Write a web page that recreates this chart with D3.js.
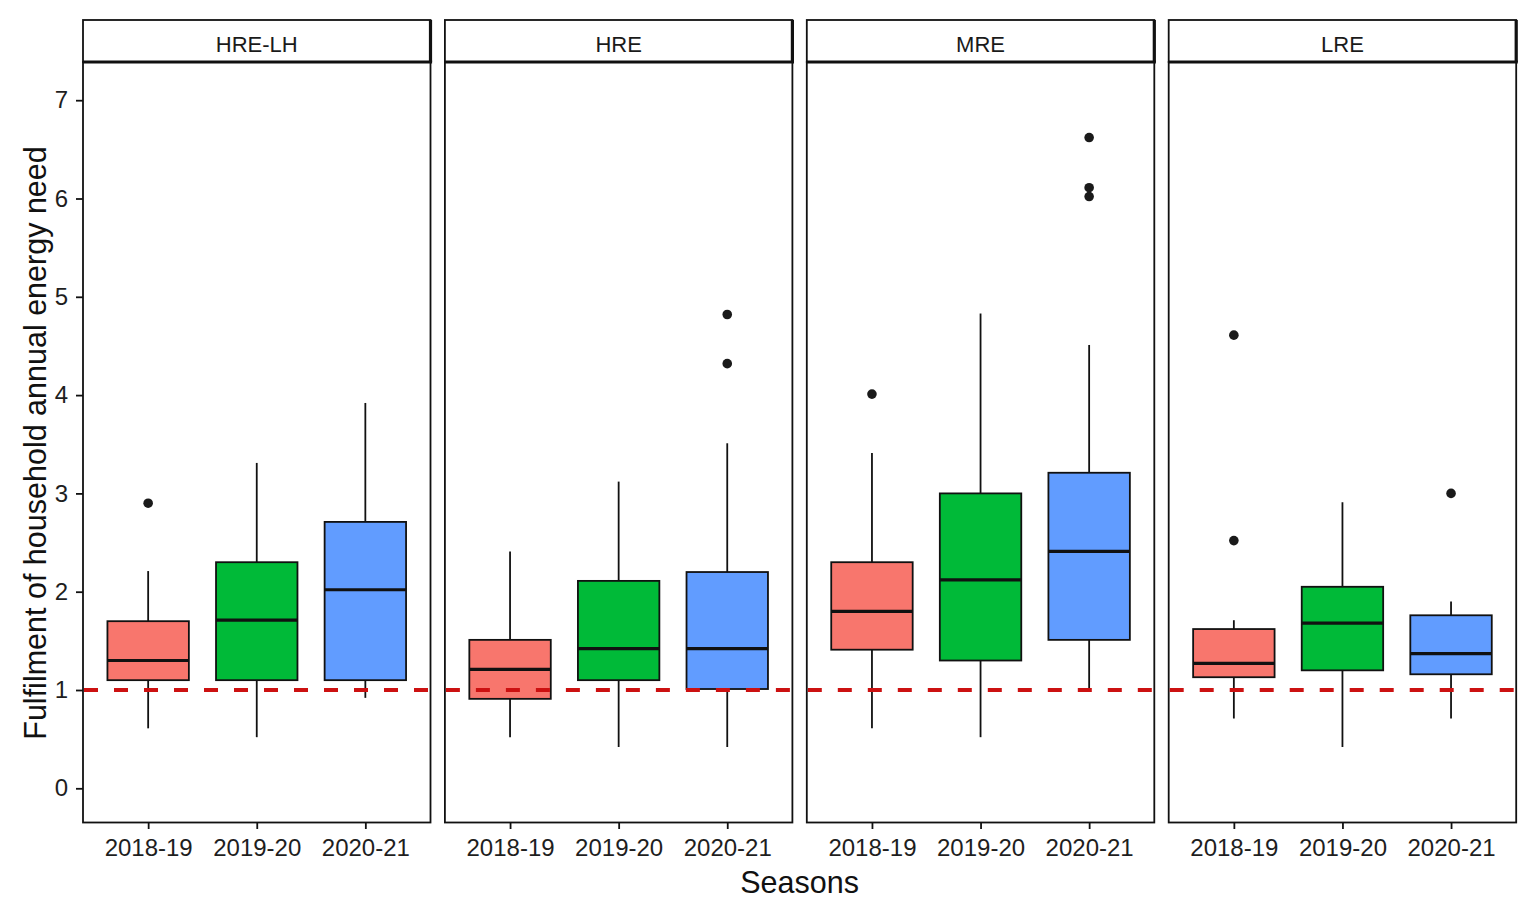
<!DOCTYPE html>
<html lang="en">
<head>
    <meta charset="UTF-8">
    <title>Fulfilment of household annual energy need</title>
    <script src="https://cdn.jsdelivr.net/npm/d3@7/dist/d3.min.js"></script>
</head>
<style>
    body { margin: 0; background: #fff; }
    svg { display: block; font-family: "Liberation Sans", Arial, sans-serif; }
    .tick-label { font-size: 24px; fill: #1e1e1e; }
    .axis-title { font-size: 30.5px; fill: #111; }
    .strip-label { font-size: 22px; fill: #1a1a1a; }
</style>
<body>
    <svg width="1536" height="914"></svg>
</body>
<script>
// facets and seasons
var facets = ["HRE-LH", "HRE", "MRE", "LRE"];
var seasons = ["2018-19", "2019-20", "2020-21"];
var colors = ["#F8766D", "#00BA38", "#619CFF"];

// box statistics, one row per facet, one value per season
var whiskerLow  = [[0.61, 0.52, 0.92], [0.52, 0.42, 0.42], [0.61, 0.52, 1.02], [0.71, 0.42, 0.71]];
var q1          = [[1.10, 1.10, 1.10], [0.91, 1.10, 1.01], [1.41, 1.30, 1.51], [1.13, 1.20, 1.16]];
var median      = [[1.30, 1.71, 2.02], [1.21, 1.42, 1.42], [1.80, 2.12, 2.41], [1.27, 1.68, 1.37]];
var q3          = [[1.70, 2.30, 2.71], [1.51, 2.11, 2.20], [2.30, 3.00, 3.21], [1.62, 2.05, 1.76]];
var whiskerHigh = [[2.21, 3.31, 3.92], [2.41, 3.12, 3.51], [3.41, 4.83, 4.51], [1.71, 2.91, 1.90]];
var outliers = [
    [[2.90], [], []],
    [[], [], [4.32, 4.82]],
    [[4.01], [], [6.02, 6.11, 6.62]],
    [[2.52, 4.61], [], [3.00]]
];

var yTicks = [0, 1, 2, 3, 4, 5, 6, 7];
var threshold = 1;

// layout
var panelLeft = 83, panelW = 347.5, panelGap = 14.4;
var stripTop = 20, plotTop = 62, plotBottom = 822.5;
var lw = 1.8;

var svg = d3.select("svg");

var y = d3.scaleLinear().domain([0, 7]).range([788.3, 100.2]);

var facetX = d3.scaleBand()
    .domain(facets)
    .range([panelLeft, panelLeft + 4 * panelW + 3 * panelGap])
    .paddingInner(panelGap / (panelW + panelGap))
    .paddingOuter(0);

facets.forEach(function(f, fi) {
    var x0 = facetX(f);
    var g = svg.append("g").attr("transform", "translate(" + x0 + ",0)");

    var x = d3.scalePoint().domain(seasons).range([0, panelW]).padding(0.6);
    var boxW = x.step() * 0.75;

    // strip
    g.append("rect")
        .attr("x", 0).attr("y", stripTop)
        .attr("width", panelW).attr("height", plotTop - stripTop)
        .attr("fill", "#fff").attr("stroke", "#111").attr("stroke-width", lw);
    g.append("line")
        .attr("x1", panelW).attr("x2", panelW)
        .attr("y1", stripTop).attr("y2", plotTop)
        .attr("stroke", "#111").attr("stroke-width", 3.2);
    g.append("line")
        .attr("x1", 0).attr("x2", panelW + 1.6)
        .attr("y1", plotTop).attr("y2", plotTop)
        .attr("stroke", "#111").attr("stroke-width", 3.2);
    g.append("text")
        .attr("class", "strip-label")
        .attr("x", panelW / 2).attr("y", 52)
        .attr("text-anchor", "middle")
        .text(f);

    // panel border
    g.append("rect")
        .attr("x", 0).attr("y", plotTop)
        .attr("width", panelW).attr("height", plotBottom - plotTop)
        .attr("fill", "none").attr("stroke", "#111").attr("stroke-width", lw);

    var rows = seasons.map(function(s, si) {
        return {
            season: s, color: colors[si],
            lo: whiskerLow[fi][si], q1: q1[fi][si], med: median[fi][si],
            q3: q3[fi][si], hi: whiskerHigh[fi][si], out: outliers[fi][si]
        };
    });

    var box = g.selectAll(".box").data(rows).enter().append("g").attr("class", "box");

    box.append("line")
        .attr("x1", function(d) { return x(d.season); })
        .attr("x2", function(d) { return x(d.season); })
        .attr("y1", function(d) { return y(d.q3); })
        .attr("y2", function(d) { return y(d.hi); })
        .attr("stroke", "#111").attr("stroke-width", lw);
    box.append("line")
        .attr("x1", function(d) { return x(d.season); })
        .attr("x2", function(d) { return x(d.season); })
        .attr("y1", function(d) { return y(d.q1); })
        .attr("y2", function(d) { return y(d.lo); })
        .attr("stroke", "#111").attr("stroke-width", lw);
    box.append("rect")
        .attr("x", function(d) { return x(d.season) - boxW / 2; })
        .attr("y", function(d) { return y(d.q3); })
        .attr("width", boxW)
        .attr("height", function(d) { return y(d.q1) - y(d.q3); })
        .attr("fill", function(d) { return d.color; })
        .attr("stroke", "#111").attr("stroke-width", lw);
    box.append("line")
        .attr("x1", function(d) { return x(d.season) - boxW / 2; })
        .attr("x2", function(d) { return x(d.season) + boxW / 2; })
        .attr("y1", function(d) { return y(d.med); })
        .attr("y2", function(d) { return y(d.med); })
        .attr("stroke", "#111").attr("stroke-width", 3.2);

    box.selectAll("circle")
        .data(function(d) { return d.out.map(function(v) { return { season: d.season, v: v }; }); })
        .enter().append("circle")
        .attr("cx", function(d) { return x(d.season); })
        .attr("cy", function(d) { return y(d.v); })
        .attr("r", 4.8)
        .attr("fill", "#1a1a1a");

    // dashed reference line
    g.append("line")
        .attr("x1", 1).attr("x2", panelW - 1)
        .attr("y1", y(threshold)).attr("y2", y(threshold))
        .attr("stroke", "#cc1111").attr("stroke-width", 3.8)
        .attr("stroke-dasharray", "14,16");

    // x axis
    var xAxis = d3.axisBottom(x).tickSize(6.5).tickPadding(10);
    var ax = g.append("g").attr("transform", "translate(0," + plotBottom + ")").call(xAxis);
    ax.select(".domain").remove();
    ax.selectAll("line").attr("stroke", "#111").attr("stroke-width", lw);
    ax.selectAll("text").attr("class", "tick-label");
    ax.attr("font-size", null).attr("font-family", null);

    if (fi === 0) {
        var yAxis = d3.axisLeft(y).tickValues(yTicks).tickFormat(d3.format("d")).tickSize(7).tickPadding(8);
        var ay = g.append("g").call(yAxis);
        ay.select(".domain").remove();
        ay.selectAll("line").attr("stroke", "#111").attr("stroke-width", lw);
        ay.selectAll("text").attr("class", "tick-label");
        ay.attr("font-size", null).attr("font-family", null);
    }
});

svg.append("text")
    .attr("class", "axis-title")
    .attr("x", (facetX(facets[0]) + facetX(facets[3]) + panelW) / 2)
    .attr("y", 893)
    .attr("text-anchor", "middle")
    .text("Seasons");

svg.append("text")
    .attr("class", "axis-title")
    .attr("transform", "translate(46,443) rotate(-90)")
    .attr("text-anchor", "middle")
    .text("Fulfilment of household annual energy need");
</script>
</html>
